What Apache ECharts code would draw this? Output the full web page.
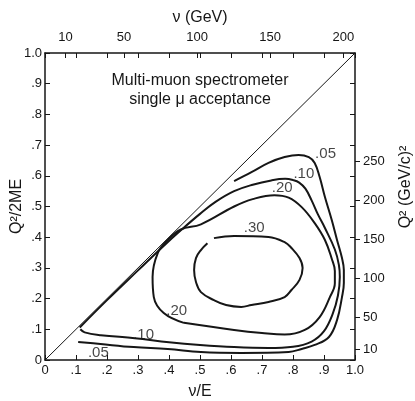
<!DOCTYPE html>
<html>
<head>
<meta charset="utf-8">
<script src="https://cdn.jsdelivr.net/npm/echarts@6/dist/echarts.min.js"></script>
<style>
  html, body { margin: 0; padding: 0; background: #fff; }
  #chart { width: 415px; height: 401px; }
</style>
</head>
<body>
<div id="chart"></div>
<script>
// tick labels
const fracTicks = ['0', '.1', '.2', '.3', '.4', '.5', '.6', '.7', '.8', '.9', '1.0']
const nuTicks = [10, 50, 100, 150, 200]
const q2Ticks = [10, 50, 100, 150, 200, 250]

// kinematic limit
const diagonal = [[0, 0], [1, 1]]

// acceptance contours, [ν/E, Q²/2ME]
const c05 = [
  [0.610, 0.583], [0.666, 0.612], [0.721, 0.642], [0.773, 0.661], [0.818, 0.668],
  [0.851, 0.661], [0.870, 0.642], [0.886, 0.596], [0.903, 0.531], [0.925, 0.456],
  [0.942, 0.391], [0.958, 0.332], [0.964, 0.293], [0.964, 0.251], [0.958, 0.205],
  [0.942, 0.130], [0.916, 0.075], [0.870, 0.049], [0.828, 0.036], [0.786, 0.026],
  [0.633, 0.023], [0.503, 0.026], [0.396, 0.036], [0.286, 0.042], [0.179, 0.052],
  [0.107, 0.059]
]
const c10 = [
  [0.112, 0.106], [0.200, 0.195], [0.300, 0.292], [0.380, 0.369], [0.440, 0.424],
  [0.500, 0.476], [0.550, 0.515], [0.610, 0.550], [0.670, 0.571], [0.730, 0.585],
  [0.775, 0.590], [0.800, 0.586], [0.820, 0.578], [0.840, 0.558], [0.860, 0.520],
  [0.880, 0.475], [0.903, 0.430], [0.935, 0.360], [0.948, 0.310], [0.951, 0.270],
  [0.945, 0.210], [0.928, 0.150], [0.900, 0.094], [0.860, 0.060], [0.800, 0.043],
  [0.720, 0.039], [0.610, 0.042], [0.500, 0.049], [0.400, 0.058], [0.290, 0.071],
  [0.180, 0.081], [0.128, 0.090], [0.114, 0.100]
]
const c20 = [
  [0.448, 0.121], [0.610, 0.098], [0.700, 0.088], [0.773, 0.083], [0.838, 0.098],
  [0.886, 0.140], [0.919, 0.205], [0.935, 0.250], [0.935, 0.290], [0.925, 0.330],
  [0.903, 0.391], [0.870, 0.446], [0.828, 0.498], [0.786, 0.529], [0.740, 0.537],
  [0.670, 0.524], [0.610, 0.500], [0.503, 0.442], [0.438, 0.425], [0.396, 0.391],
  [0.364, 0.349], [0.347, 0.270], [0.351, 0.205], [0.383, 0.153], [0.448, 0.121]
]
const c30 = [
  [0.545, 0.397], [0.610, 0.404], [0.721, 0.401], [0.773, 0.384], [0.795, 0.365],
  [0.821, 0.332], [0.831, 0.300], [0.821, 0.261], [0.795, 0.228], [0.773, 0.205],
  [0.721, 0.189], [0.666, 0.179], [0.633, 0.173], [0.584, 0.179], [0.545, 0.195],
  [0.503, 0.221], [0.487, 0.254], [0.481, 0.293], [0.487, 0.332], [0.503, 0.358],
  [0.524, 0.380]
]

// contour labels, [ν/E, Q²/2ME, text]
const contourLabels = [
  [0.905, 0.672, '.05'], [0.835, 0.605, '.10'], [0.765, 0.562, '.20'],
  [0.675, 0.430, '.30'], [0.425, 0.160, '.20'], [0.318, 0.082, '.10'],
  [0.172, 0.022, '.05']
]

const ink = '#161616'
const font = 'Liberation Sans'

const chart = echarts.init(document.getElementById('chart'))

const contour = (data) => ({
  type: 'line',
  data: data,
  smooth: 0.4,
  symbol: 'none',
  lineStyle: { color: ink, width: 2 },
  silent: true,
  z: 3
})

const tickStyle = { color: ink, width: 1 }

const option = {
  animation: false,
  backgroundColor: '#fff',
  textStyle: { fontFamily: font, color: ink },
  grid: { left: 45, right: 60, top: 53, bottom: 41, outerBoundsMode: 'none', containLabel: false },
  xAxis: [
    {
      type: 'value', position: 'bottom', min: 0, max: 1, interval: 0.1,
      axisLine: { onZero: false, lineStyle: { color: ink, width: 1.5 } },
      axisTick: { inside: true, length: 5, lineStyle: tickStyle },
      axisLabel: {
        color: ink, fontSize: 13, margin: 4,
        formatter: v => fracTicks[Math.round(v * 10)]
      },
      splitLine: { show: false },
      name: 'ν/E', nameLocation: 'middle', nameGap: 24, nameMoveOverlap: false,
      nameTextStyle: { fontSize: 16, color: ink }
    },
    {
      type: 'value', position: 'top', min: -4, max: 208,
      axisLine: { onZero: false, lineStyle: { color: ink, width: 1.5 } },
      axisTick: { inside: true, length: 5, customValues: nuTicks, lineStyle: tickStyle },
      axisLabel: { color: ink, fontSize: 13, margin: 9, customValues: nuTicks },
      splitLine: { show: false },
      name: 'ν (GeV)', nameLocation: 'middle', nameGap: 27, nameMoveOverlap: false,
      nameTextStyle: { fontSize: 16, color: ink }
    },
    {
      type: 'value', position: 'top', min: 0, max: 1, interval: 0.1,
      axisLine: { show: false, onZero: false },
      axisTick: { inside: true, length: 5, lineStyle: tickStyle },
      axisLabel: { show: false },
      splitLine: { show: false }
    }
  ],
  yAxis: [
    {
      type: 'value', position: 'left', min: 0, max: 1, interval: 0.1,
      axisLine: { onZero: false, lineStyle: { color: ink, width: 1.5 } },
      axisTick: { inside: true, length: 5, lineStyle: tickStyle },
      axisLabel: {
        color: ink, fontSize: 13, margin: 3,
        formatter: v => fracTicks[Math.round(v * 10)]
      },
      splitLine: { show: false },
      name: 'Q²/2ME', nameLocation: 'middle', nameGap: 20, nameMoveOverlap: false,
      nameTextStyle: { fontSize: 16, color: ink }
    },
    {
      type: 'value', position: 'right', min: -4, max: 388,
      axisLine: { onZero: false, lineStyle: { color: ink, width: 1.5 } },
      axisTick: { inside: false, length: 5, customValues: q2Ticks, lineStyle: tickStyle },
      axisLabel: { color: ink, fontSize: 13, margin: 8, customValues: q2Ticks },
      splitLine: { show: false }
    },
    {
      type: 'value', position: 'right', min: 0, max: 1, interval: 0.1,
      axisLine: { show: false, onZero: false },
      axisTick: { inside: true, length: 5, lineStyle: tickStyle },
      axisLabel: { show: false },
      splitLine: { show: false }
    }
  ],
  graphic: [
    {
      type: 'text', x: 200, y: 71,
      style: {
        text: 'Multi-muon spectrometer\nsingle μ acceptance',
        textAlign: 'center', font: '16px "Liberation Sans"', fill: ink, lineHeight: 19
      }
    },
    {
      type: 'text', x: 406, y: 187, rotation: Math.PI / 2,
      style: {
        text: 'Q² (GeV/c)²',
        textAlign: 'center', textVerticalAlign: 'middle',
        font: '16px "Liberation Sans"', fill: ink
      }
    }
  ],
  series: [
    {
      type: 'line', data: diagonal, symbol: 'none', silent: true,
      lineStyle: { color: ink, width: 1 }, z: 2
    },
    contour(c05),
    contour(c10),
    contour(c20),
    contour(c30),
    {
      type: 'scatter',
      data: contourLabels.map(d => ({ value: [d[0], d[1]], name: d[2] })),
      symbolSize: 0, silent: true, z: 4,
      label: {
        show: true, position: 'inside', formatter: p => p.name,
        color: ink, fontSize: 15, fontFamily: font
      }
    }
  ]
}

chart.setOption(option)
</script>
</body>
</html>
